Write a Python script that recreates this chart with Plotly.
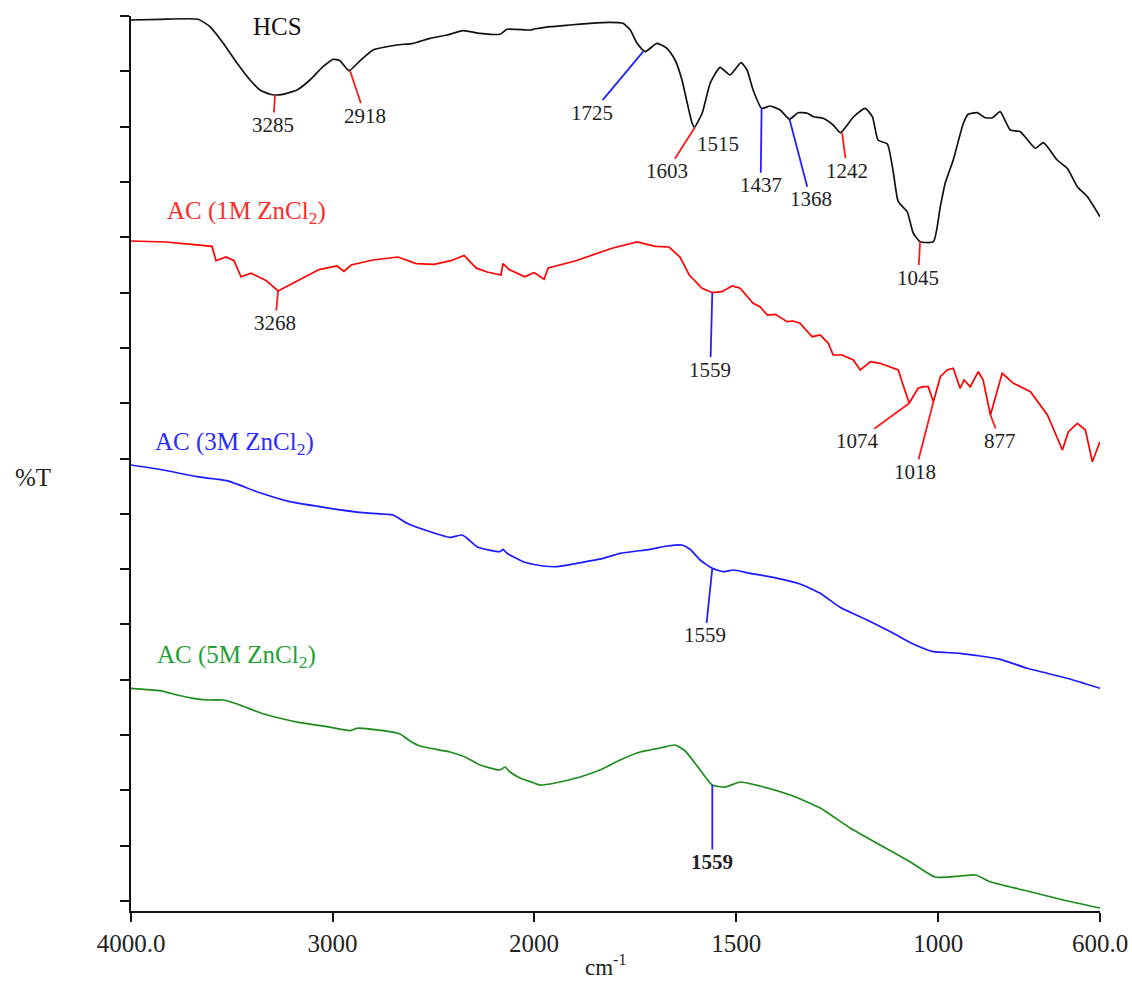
import numpy as np
import plotly.graph_objects as go

# ---------------- data (wavenumber cm-1, offset %T in arbitrary units) ----------------
hcs_wn = [4000, 3856, 3667, 3608, 3543, 3474, 3409, 3360, 3310, 3285, 3246, 3176, 3112, 3047, 2997, 2963, 2918, 2868,
          2799, 2680, 2600, 2516, 2432, 2352, 2268, 2169, 2134, 2020, 2000, 1960, 1911, 1861, 1812, 1780, 1762, 1745,
          1725, 1696, 1671, 1651, 1634, 1621, 1609, 1603, 1584, 1564, 1540, 1515, 1488, 1473, 1458, 1437, 1416, 1391,
          1368, 1347, 1324, 1309, 1285, 1260, 1242, 1210, 1181, 1163, 1149, 1126, 1111, 1099, 1077, 1062, 1045, 1012,
          995, 983, 963, 938, 926, 904, 884, 866, 847, 822, 797, 760, 740, 706, 681, 656, 631, 600]
hcs_t = [881, 881.7, 881.7, 874.3, 858, 838, 821, 811, 806.7, 806, 806.7, 811, 821, 834.3, 841.7, 840.3, 830.3, 839.3,
         851, 856, 857.7, 862.7, 866, 870.3, 867.7, 866.7, 871.7, 871, 872, 874.3, 876, 877.7, 878.7, 877.7, 871, 857.7,
         849.3, 857.7, 852.7, 841, 821, 798, 778, 773.7, 788, 818, 833.7, 826, 838.3, 831, 811, 792.7, 795, 791,
         781.7, 788.3, 787.7, 784.3, 782.7, 776, 768.3, 784, 792.7, 784.3, 761, 757, 728, 699.3, 689.3, 668, 659.3, 659.3,
         694.3, 717.7, 741, 777.7, 786.7, 788.3, 783.3, 783.3, 789.3, 771, 769.3, 752.7, 758.3, 741, 732.7, 714.3, 704.3, 684.3]

ac1_wn = [4000, 3826, 3687, 3598, 3578, 3528, 3489, 3454, 3404, 3330, 3270, 3156, 3067, 2978, 2943, 2908, 2799, 2675,
          2585, 2496, 2412, 2347, 2288, 2233, 2164, 2154, 2124, 2045, 2000, 1975, 1965, 1896, 1807, 1745, 1700, 1666,
          1639, 1616, 1584, 1559, 1535, 1510, 1490, 1458, 1441, 1423, 1403, 1374, 1359, 1342, 1312, 1292, 1272, 1260,
          1238, 1210, 1193, 1168, 1144, 1099, 1087, 1072, 1050, 1037, 1025, 1012, 995, 978, 963, 946, 936, 921, 901,
          889, 871, 842, 814, 772, 730, 693, 678, 656, 636, 619, 600]
ac1_t = [660, 659, 656.4, 654.6, 640.3, 644, 640.3, 624.2, 627.8, 620.6, 610, 622.4, 631.4, 635, 629.6, 636, 641, 644,
         637.4, 636.7, 640.3, 645.6, 633.1, 629, 626, 637.4, 631.4, 624.2, 628.5, 621.7, 633.1, 640.3, 652.8, 659, 654.6, 654,
         644, 626, 612.7, 608.3, 609.3, 615, 612.7, 597.7, 594.3, 586, 586.7, 579.3, 580, 577.7, 564.3, 566, 557.7, 546,
         546, 541, 531, 539.3, 537.7, 531, 516, 497.7, 512.7, 514.3, 514.3, 499.3, 524.3, 531, 532.7, 512.7, 521, 514.3, 529.3,
         521, 486, 527.7, 517.7, 509.3, 486, 451, 469.3, 477.7, 471, 439.3, 459.3]

ac3_wn = [4000, 3841, 3672, 3524, 3375, 3211, 3012, 2849, 2700, 2630, 2516, 2417, 2357, 2332, 2278, 2169, 2154, 2134,
          2054, 2000, 1978, 1943, 1894, 1829, 1787, 1713, 1671, 1634, 1614, 1589, 1559, 1532, 1507, 1465, 1408, 1342,
          1292, 1243, 1176, 1111, 1062, 1012, 946, 847, 780, 681, 600]
ac3_t = [436, 431, 424.3, 420.3, 409.3, 399.3, 392.7, 388.3, 386, 377.7, 369.3, 363.7, 366, 362.7, 353.7, 349.3, 351.7, 347.7,
         339.3, 336.5, 335, 334.3, 337.7, 342.7, 347.7, 351.7, 355, 356, 351.7, 341, 332.7, 329.3, 331, 327.7, 323.7, 317,
         307.7, 293.7, 281, 267.7, 257, 249.3, 247.7, 241.7, 232.7, 222.7, 212.7]

ac5_wn = [4000, 3856, 3772, 3692, 3623, 3543, 3459, 3360, 3260, 3161, 3027, 2913, 2878, 2749, 2665, 2615, 2566, 2417,
          2342, 2268, 2169, 2144, 2119, 2069, 2000, 1985, 1948, 1886, 1837, 1787, 1738, 1688, 1651, 1626, 1589, 1559,
          1527, 1490, 1441, 1366, 1292, 1218, 1144, 1069, 1008, 946, 908, 870, 790, 691, 600]
ac5_t = [212.7, 210.3, 206, 202.7, 201, 201, 196, 188.3, 182.7, 178.3, 174.3, 170.3, 172.7, 170.3, 167, 160, 155, 149,
         144, 136, 131, 134, 129, 123, 118, 116, 118, 124, 131, 141, 149, 153, 156, 150, 131, 116,
         114, 119, 115, 106, 93, 73, 56, 39, 24, 25, 26, 19, 11, 1, -7]

series_names = ["HCS", "AC (1M ZnCl<sub>2</sub>)", "AC (3M ZnCl<sub>2</sub>)", "AC (5M ZnCl<sub>2</sub>)"]

# peak markers
peak_labels = ["3285", "2918", "1725", "1603", "1437", "1368", "1242", "1045",
               "3268", "1559", "1074", "1018", "877", "1559", "<b>1559</b>"]
peak_wn = [3285, 2913, 1730, 1602, 1437, 1368, 1238, 1045, 3270, 1559, 1072, 1012, 871, 1559, 1559]
peak_t = [806, 830.3, 849.3, 773.7, 792.7, 781.7, 768.3, 659.3, 610, 608.3, 497.7, 499.3, 486, 332.7, 116]
extra_label = "1515"
extra_wn, extra_t = 1545, 757

x_ticks_left = [4000, 3000]
x_ticktext_left = ["4000.0", "3000"]
x_ticks_right = [2000, 1500, 1000, 600]
x_ticktext_right = ["2000", "1500", "1000", "600.0"]

# ---------------- styles ----------------
RED = "#ff1a1a"
BLUE = "#2222ff"
line_colors = ["#111111", "#ff0000", "#1a1aff", "#1c8c1c"]
line_shapes = ["spline", "linear", "spline", "spline"]
label_colors = ["#111111", "#ff2a2a", "#2a2aff", "#22a033"]
label_pos = [(0.1507, 0.9888), (0.1197, 0.7799), (0.1063, 0.5229), (0.1084, 0.2838)]
peak_colors = [RED, RED, BLUE, RED, BLUE, BLUE, RED, RED, RED, BLUE, RED, RED, RED, BLUE, BLUE]
peak_offsets = [(-2, 30), (15, 45), (-51, 61), (-28, 44), (-1, 77), (21, 80), (5, 38), (-2, 36),
                (-3, 32), (-2, 77), (-52, 38), (-18, 70), (10, 26), (-7, 67), (0, 77)]

FONT = "Liberation Serif, Times New Roman, serif"
SPLIT = 2000
dom_split = 403 / 969

fig = go.Figure()

for wn, t, col, shp in zip([hcs_wn, ac1_wn, ac3_wn, ac5_wn], [hcs_t, ac1_t, ac3_t, ac5_t], line_colors, line_shapes):
    wn = np.array(wn, dtype=float)
    t = np.array(t, dtype=float)
    m1 = wn >= SPLIT
    m2 = wn <= SPLIT
    ln = dict(color=col, width=1.7, shape=shp)
    if shp == "spline":
        ln["smoothing"] = 0.5
    fig.add_trace(go.Scatter(x=wn[m1], y=t[m1], mode="lines", xaxis="x", yaxis="y",
                             line=ln, showlegend=False, hoverinfo="skip"))
    fig.add_trace(go.Scatter(x=wn[m2], y=t[m2], mode="lines", xaxis="x2", yaxis="y",
                             line=ln, showlegend=False, hoverinfo="skip"))

annotations = []
for name, col, (px, py) in zip(series_names, label_colors, label_pos):
    annotations.append(dict(text=name, x=px, y=py, xref="paper", yref="paper", showarrow=False,
                            font=dict(family=FONT, size=25, color=col), xanchor="center", yanchor="middle"))

for lab, wn, t, col, (ax, ay) in zip(peak_labels, peak_wn, peak_t, peak_colors, peak_offsets):
    annotations.append(dict(text=lab, x=wn, y=t, xref="x" if wn > SPLIT else "x2", yref="y",
                            showarrow=True, arrowhead=0, arrowwidth=1.8, arrowcolor=col,
                            ax=ax, ay=ay, axref="pixel", ayref="pixel", standoff=0, startstandoff=0,
                            font=dict(family=FONT, size=21, color="#222222"), borderpad=0))

annotations.append(dict(text=extra_label, x=extra_wn, y=extra_t, xref="x2", yref="y", showarrow=False,
                        xanchor="center", yanchor="middle",
                        font=dict(family=FONT, size=21, color="#222222")))

annotations.append(dict(text="%T", x=-0.101, y=0.4838, xref="paper", yref="paper", showarrow=False,
                        xanchor="center", yanchor="middle",
                        font=dict(family=FONT, size=25, color="#222222")))
annotations.append(dict(text="cm<sup>-1</sup>", x=0.49, y=-0.0605, xref="paper", yref="paper", showarrow=False,
                        xanchor="center", yanchor="middle",
                        font=dict(family=FONT, size=23, color="#222222")))

axis_common = dict(showline=True, linecolor="#111111", linewidth=1.6, ticks="outside", ticklen=9,
                   tickwidth=1.6, tickcolor="#111111", showgrid=False, zeroline=False, automargin=False,
                   tickfont=dict(family=FONT, size=25, color="#222222"))

fig.update_layout(
    width=1132, height=981,
    margin=dict(l=131, r=32, t=16, b=70, autoexpand=False),
    paper_bgcolor="white", plot_bgcolor="white",
    xaxis=dict(domain=[0, dom_split], range=[4000, SPLIT], tickvals=x_ticks_left, ticktext=x_ticktext_left,
               anchor="y", **axis_common),
    xaxis2=dict(domain=[dom_split, 1], range=[SPLIT, 600], tickvals=x_ticks_right, ticktext=x_ticktext_right,
                anchor="y", **axis_common),
    yaxis=dict(range=[-10, 885], tick0=0, dtick=885 / 16, showticklabels=False, anchor="x", automargin=False,
               showline=True, linecolor="#111111", linewidth=1.6, ticks="outside", ticklen=9,
               tickwidth=1.6, tickcolor="#111111", showgrid=False, zeroline=False),
    annotations=annotations,
)

fig.write_html("out.html")
